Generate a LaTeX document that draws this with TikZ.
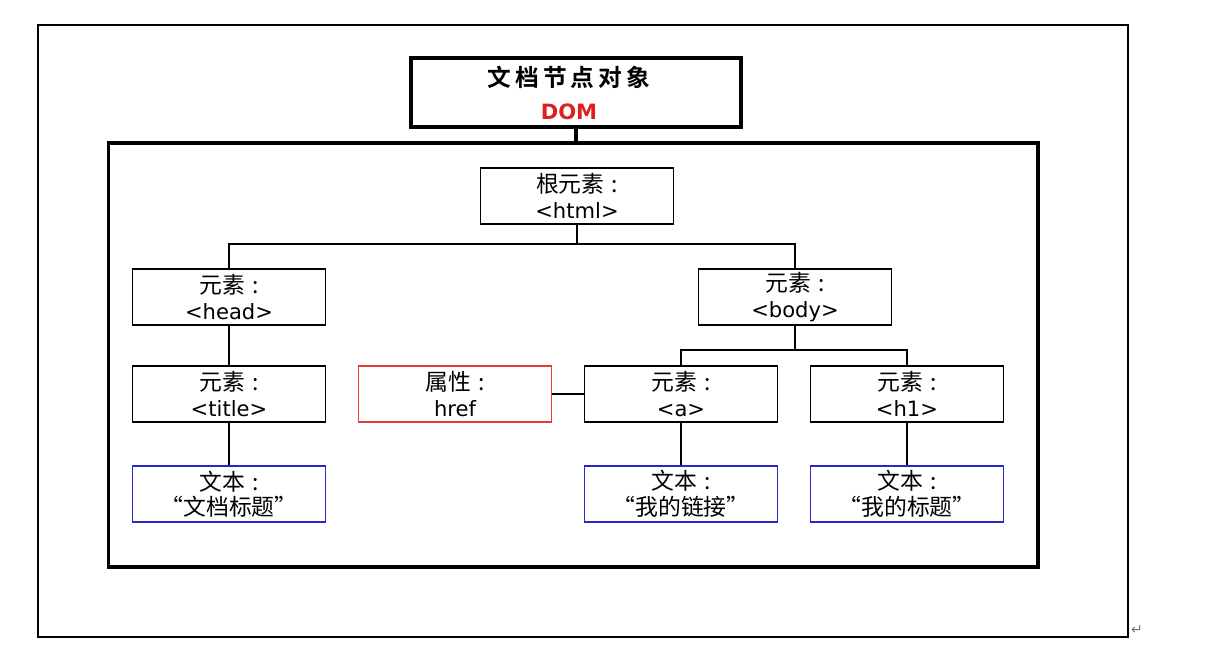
\documentclass[tikz,border=0pt]{standalone}
\usepackage{fontspec}
\setmainfont{DejaVu Sans}
\newfontfamily\cjk{Noto Sans CJK SC}
\newfontfamily\cjkbold{Noto Sans CJK SC Bold}
\usepackage{tikz}
\usetikzlibrary{positioning}
\definecolor{boxred}{RGB}{226,60,60}
\definecolor{domred}{RGB}{222,32,32}
\definecolor{boxblue}{RGB}{40,40,200}
\newcommand{\zh}[1]{{\cjk\fontsize{13}{14.5}\selectfont #1}}
\newcommand{\zhc}[1]{\zh{#1\hspace{0.3em}:}}
\tikzset{
  elem/.style={draw=black, line width=1pt, minimum width=3.86cm, minimum height=1.12cm,
    inner sep=0pt, align=center, font=\fontsize{12}{14.5}\selectfont},
  attr/.style={elem, draw=boxred},
  txt/.style={elem, draw=boxblue},
  heavy/.style={draw=black, line width=1.8pt, inner sep=0pt},
  link/.style={line width=1pt}
}
\begin{document}
\begin{tikzpicture}[x=0.02cm, y=-0.02cm]
\useasboundingbox (0,0) rectangle (1214,648);
\node[draw=black, line width=0.7pt, minimum width=21.8cm, minimum height=12.24cm, inner sep=0pt] (page) at (583,331) {};
\node[text=black!55, font=\fontsize{8}{8}\selectfont, inner sep=0pt] (ret) at (1137,630) {↵};
\node[heavy, minimum width=6.6cm, minimum height=1.38cm] (dom) at (576,92.5) {};
\node[font=\cjkbold\fontsize{13.5}{14}\selectfont, inner sep=0pt] (domzh) at (569,77) {文\,档\,节\,点\,对\,象};
\node[text=domred, font=\bfseries\fontsize{12}{12}\selectfont, inner sep=0pt] (domen) at (569,112) {DOM};
\node[heavy, minimum width=18.6cm, minimum height=8.48cm] (doc) at (573,355) {};
\draw[line width=1.8pt] (dom.south) -- (dom.south |- doc.north);

\node[elem] (html) at (577,196) {\zhc{根元素}\\<html>};
\node[elem] (head) at (229,297) {\zhc{元素}\\<head>};
\node[elem] (body) at (795,297) {\zhc{元素}\\<body>};
\node[elem] (title) at (229,394) {\zhc{元素}\\<title>};
\node[attr] (href) at (455,394) {\zhc{属性}\\href};
\node[elem] (a) at (681,394) {\zhc{元素}\\<a>};
\node[elem] (h1) at (907,394) {\zhc{元素}\\<h1>};
\node[txt] (t1) at (229,494) {\zhc{文本}\\\zh{“文档标题”}};
\node[txt] (t2) at (681,494) {\zhc{文本}\\\zh{“我的链接”}};
\node[txt] (t3) at (907,494) {\zhc{文本}\\\zh{“我的标题”}};

\draw[link] (html.south) -- ++(0,19) -| (head.north);
\draw[link] (html.south) -- ++(0,19) -| (body.north);
\draw[link] (head) -- (title);
\draw[link] (title) -- (t1);
\draw[link] (body.south) -- ++(0,24) -| (a.north);
\draw[link] (body.south) -- ++(0,24) -| (h1.north);
\draw[link] (href) -- (a);
\draw[link] (a) -- (t2);
\draw[link] (h1) -- (t3);
\end{tikzpicture}
\end{document}
